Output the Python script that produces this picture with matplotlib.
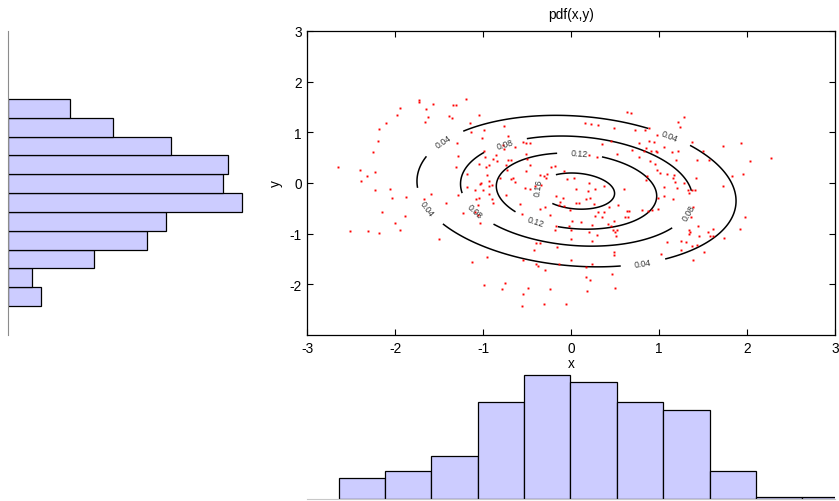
import numpy as np
import matplotlib
matplotlib.use("Agg")
import matplotlib.pyplot as plt

plt.rcParams['font.family'] = ['Liberation Sans', 'DejaVu Sans']
plt.rcParams['axes.unicode_minus'] = False

# ---- scatter sample ----
pts_x = [
 -2.65,-2.40,-2.39,-2.32,-2.23,-2.23,-2.25,-2.20,-2.19,-2.11,-2.06,-2.04,-1.98,-1.95,-1.88,-1.73,-1.73,-1.68,
 -1.66,-1.65,-1.63,-1.60,-1.57,-1.39,-1.36,-1.34,-1.31,-1.30,-1.29,-1.31,-1.29,-1.20,-1.18,-1.18,-1.15,-1.14,
 -1.09,-1.08,-1.05,-1.05,-1.05,-1.04,-1.03,-1.02,-0.99,-1.00,-0.99,-0.98,-0.97,-0.96,-0.93,-0.93,-0.94,-0.93,-1.42,
 # middle upper
 0.63,0.68,0.16,0.22,0.31,0.49,0.72,-0.76,-0.72,-0.78,-0.77,-0.55,-0.51,-0.47,-0.64,-0.52,0.45,0.35,0.77,
 0.20,0.29,0.52,0.69,0.77,0.83,-0.86,-0.89,-0.85,-0.72,-0.69,-0.50,-0.74,-0.47,-0.23,-0.18,-0.08,-0.36,-0.31,
 -0.27,-0.29,-0.52,-0.73,-0.81,-0.69,-0.66,-0.64,-0.905,-0.53,-0.47,-0.41,-0.34,-0.05,0.03,0.05,0.20,0.19,0.27,
 0.37,0.60,0.845,-0.74,-0.90,-0.17,-0.125,-0.095,0.05,0.087,0.17,0.21,
 # right upper
 1.28,1.22,1.235,0.84,0.886,0.97,0.886,0.94,0.85,0.91,0.966,0.977,1.053,1.144,1.216,1.379,0.898,1.197,0.955,
 0.977,1.011,1.087,0.864,1.167,1.163,1.182,1.42,1.28,1.208,1.06,1.326,1.371,1.409,1.341,1.053,0.985,1.152,
 1.50,1.436,1.572,1.724,1.932,2.034,2.269,1.83,1.955,1.724,
 # left lower
 -2.15,-1.894,-2.0,-1.943,-2.519,-2.307,-2.186,-1.50,-1.227,-1.06,-1.10,-1.06,-1.034,-0.955,-1.125,-0.993,
 # middle lower
 -0.587,-0.89,-0.56,-0.36,-0.303,-0.144,-0.087,-0.011,0.261,0.299,0.375,0.424,0.53,0.273,0.352,0.633,0.659,
 0.614,0.644,0.803,-0.239,-0.17,-0.182,-0.026,0.008,0.0,0.11,0.238,0.201,0.291,0.413,0.458,0.492,0.47,0.496,
 0.526,0.511,-0.004,0.235,-0.163,-0.398,-0.36,-0.424,-0.545,-0.405,-0.383,-0.303,-0.144,-0.004,0.167,0.238,
 0.481,0.489,0.466,0.17,0.216,-0.754,-0.784,-0.496,-0.246,0.178,0.50,-0.553,-0.307,-0.057,-0.561,
 # right lower
 0.871,0.924,0.992,1.383,1.364,1.439,1.345,1.352,1.337,1.458,1.25,1.303,1.087,1.553,1.61,1.58,1.617,1.735,
 1.515,1.428,1.371,1.25,1.019,1.386,1.917,1.981,
]
pts_y = [
 0.32,0.25,0.03,0.14,0.21,-0.14,0.61,0.82,1.07,1.18,-0.11,-0.30,1.34,1.48,-0.27,1.64,1.60,-0.32,
 1.21,1.46,1.30,-0.22,1.56,1.33,1.28,1.53,1.53,0.79,0.54,0.31,-0.24,1.66,0.18,-0.07,1.18,1.01,
 -0.13,-0.32,-0.29,0.38,1.35,-0.02,0.00,0.89,1.05,-0.14,0.63,0.51,0.32,0.16,0.36,0.03,-0.22,-0.05,-0.40,
 1.40,1.39,1.18,1.16,1.14,1.09,1.04,1.12,0.93,0.74,0.67,0.80,0.78,0.79,0.72,0.58,0.82,0.76,0.78,
 0.56,0.51,0.57,0.66,0.51,0.64,0.55,0.47,0.43,0.46,0.46,0.47,0.355,0.355,0.31,0.33,0.24,0.165,0.13,
 0.18,0.09,0.24,0.25,0.09,0.08,0.09,0.01,-0.04,-0.09,-0.12,-0.05,-0.03,0.085,0.105,-0.12,0.0,-0.16,-0.11,
 -0.05,-0.11,0.065,-0.24,-0.32,-0.26,-0.38,-0.30,-0.40,-0.40,-0.32,-0.29,
 1.31,1.21,1.11,1.05,1.085,0.95,0.82,0.815,0.70,0.625,0.625,0.605,0.72,0.618,0.63,0.815,0.434,0.447,0.368,
 0.25,0.204,0.184,0.145,0.158,0.105,0.026,0.10,-0.01,-0.09,-0.07,-0.13,-0.145,-0.145,-0.204,-0.25,-0.29,-0.316,
 0.638,0.454,0.46,0.737,0.796,0.44,0.487,0.145,0.171,-0.066,
 -0.566,-0.658,-0.79,-0.927,-0.954,-0.947,-0.98,-1.10,-0.592,-0.427,-0.566,-0.63,-0.79,-1.47,-1.55,-2.006,
 -0.421,-0.395,-0.618,-0.513,-0.473,-0.434,-0.46,-0.526,-0.414,-0.566,-0.579,-0.48,-0.434,-0.658,-0.664,-0.546,-0.552,
 -0.671,-0.671,-0.526,-0.631,-0.842,-0.934,-0.842,-0.743,-0.927,-0.763,-0.829,-0.974,-1.026,-0.816,-0.842,-0.756,-0.934,-0.974,
 -0.934,-1.052,-1.112,-1.151,-1.256,-1.177,-1.19,-1.316,-1.52,-1.598,-1.631,-1.717,-1.598,-1.52,-1.664,-1.605,
 -1.368,-1.421,-1.796,-1.855,-1.908,-1.967,-2.099,-2.072,-2.092,-2.138,-2.079,-2.19,-2.395,-2.381,-2.428,
 -0.546,-0.533,-0.506,-0.467,-0.671,-0.855,-0.927,-0.974,-1.013,-1.039,-1.151,-1.171,-1.158,-0.96,-0.908,-1.039,-1.046,-1.085,
 -1.355,-1.217,-1.243,-1.322,-1.395,-1.52,-0.901,-0.664,
]

# ---- fitted normal pdf ----
pdf_mean = [0.06, -0.16]
pdf_cov = [[1.12, -0.12], [-0.12, 0.76]]
contour_levels = [0.04, 0.08, 0.12, 0.16]

# ---- marginal histograms ----
x_bin_edges = [-2.644, -2.117, -1.591, -1.062, -0.534, -0.011, 0.517, 1.045, 1.574, 2.102, 2.630, 3.153]
x_counts = [10, 13, 20, 45, 57, 54, 45, 41, 13, 1, 1]
y_bin_edges = [-2.427, -2.056, -1.684, -1.313, -0.941, -0.570, -0.199, 0.173, 0.544, 0.916, 1.287, 1.658]
y_counts = [7, 5, 18, 29, 33, 49, 45, 46, 34, 22, 13]
count_limit = 62.5

x_ticks = [-3, -2, -1, 0, 1, 2, 3]
y_ticks = [-2, -1, 0, 1, 2, 3]

bar_face = '#ccccff'

fig = plt.figure(figsize=(8.39, 5.02), dpi=100)

# left histogram (y marginal)
axl = fig.add_axes([0.0095, 0.3307, 0.3564, 0.6056])
axl.patch.set_visible(False)
axl.barh(y_bin_edges[:-1], y_counts, height=np.diff(y_bin_edges), align='edge',
         color=bar_face, edgecolor='black', linewidth=0.9)
axl.set_ylim(-3, 3)
axl.set_xlim(0, count_limit)
for k in ['top', 'right', 'bottom']:
    axl.spines[k].set_visible(False)
axl.spines['left'].set_color('#8c8c8c')
axl.set_xticks([])
axl.set_yticks([])

# bottom histogram (x marginal)
axb = fig.add_axes([0.3665, 0.003, 0.6287, 0.271])
axb.patch.set_visible(False)
axb.bar(x_bin_edges[:-1], x_counts, width=np.diff(x_bin_edges), align='edge',
        color=bar_face, edgecolor='black', linewidth=0.9)
axb.set_xlim(-3, 3)
axb.set_ylim(0, count_limit)
for k in ['top', 'right', 'left']:
    axb.spines[k].set_visible(False)
axb.spines['bottom'].set_color('#c8c8c8')
axb.set_xticks([])
axb.set_yticks([])

# main axes
ax = fig.add_axes([0.3665, 0.3307, 0.6287, 0.6056])
ax.patch.set_visible(False)
gx = np.linspace(-3, 3, 301)
gy = np.linspace(-3, 3, 301)
GX, GY = np.meshgrid(gx, gy)
cov = np.array(pdf_cov)
inv = np.linalg.inv(cov)
dx = GX - pdf_mean[0]
dy = GY - pdf_mean[1]
q = inv[0, 0]*dx*dx + 2*inv[0, 1]*dx*dy + inv[1, 1]*dy*dy
Z = np.exp(-0.5*q) / (2*np.pi*np.sqrt(np.linalg.det(cov)))
cs = ax.contour(GX, GY, Z, levels=contour_levels, colors='black', linewidths=1.1)
label_pos = [(-1.46, 0.83), (-1.66, -0.52), (1.115, 0.91), (0.815, -1.56),
             (-0.755, 0.78), (-1.10, -0.57), (1.275, -0.52),
             (0.096, 0.58), (-0.40, -0.75), (-0.36, -0.09)]
lbls = ax.clabel(cs, levels=contour_levels, manual=label_pos, inline=True,
                 inline_spacing=14, fontsize=6.3, fmt='%.2f')
for t in lbls:
    t.set_color('#333333')
ax.plot(pts_x, pts_y, 's', ms=1.4, mfc='red', mec='none', ls='none')
ax.set_xlim(-3, 3)
ax.set_ylim(-3, 3)
ax.set_xticks(x_ticks)
ax.set_yticks(y_ticks)
ax.tick_params(direction='in', length=4, width=0.8, top=True, right=True,
               labelsize=9.8, pad=4)
for s in ax.spines.values():
    s.set_linewidth(0.9)
ax.set_title('pdf(x,y)', fontsize=9.8, pad=9)
ax.set_xlabel('x', fontsize=9.8, labelpad=1)
ax.set_ylabel('y', fontsize=9.8, labelpad=5)

fig.savefig('out.png', dpi=100)
